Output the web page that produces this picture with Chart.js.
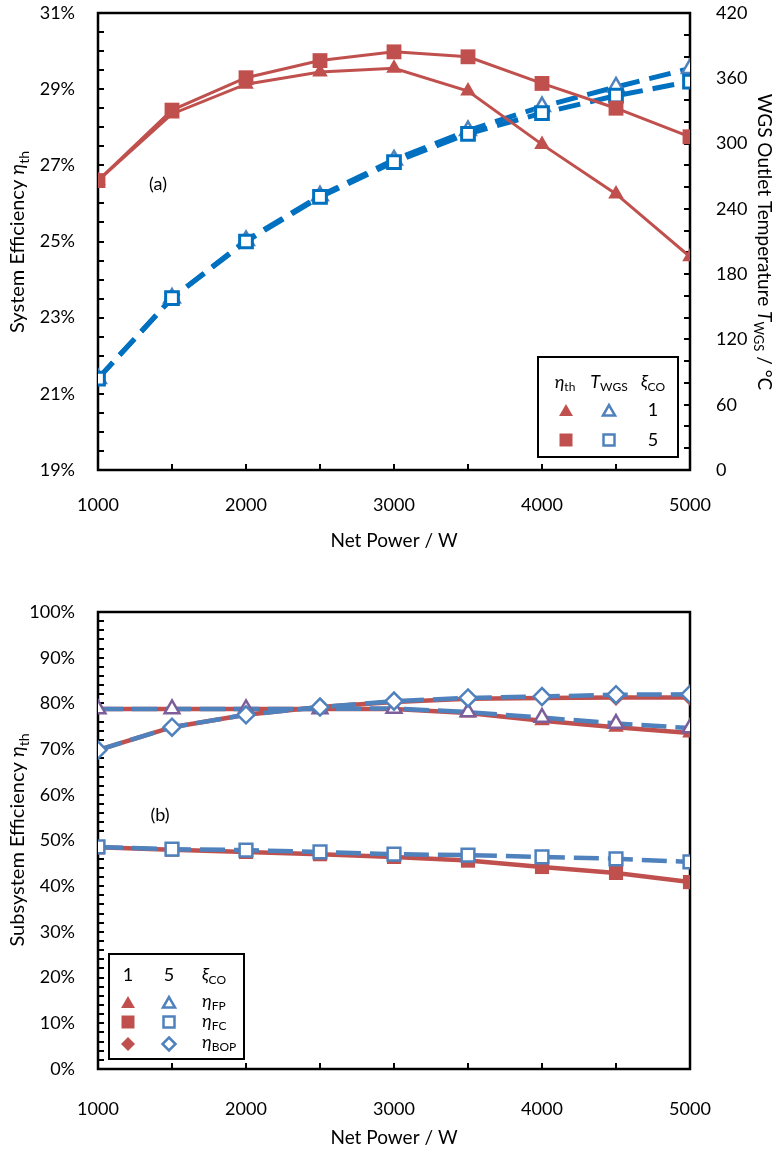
<!DOCTYPE html>
<html>
<head>
<meta charset="utf-8">
<script src="https://cdn.jsdelivr.net/npm/chart.js@4"></script>
<style>
body { margin: 0; background: #fff; }
canvas { position: absolute; left: 0; }
</style>
</head>
<body>
<canvas id="chartA" width="778" height="560" style="top:0"></canvas>
<canvas id="chartB" width="778" height="596" style="top:560px"></canvas>
<script>
// data
var netPower = [1000, 1500, 2000, 2500, 3000, 3500, 4000, 4500, 5000];
// (a) system efficiency, % (left axis)
var effXi1 = [26.6, 28.35, 29.13, 29.45, 29.55, 28.95, 27.55, 26.25, 24.6];
var effXi5 = [26.6, 28.45, 29.3, 29.75, 29.98, 29.85, 29.15, 28.5, 27.75];
// (a) WGS outlet temperature, degC (right axis)
var tempXi1 = [84, 158, 211, 252, 285, 312, 334, 352, 369];
var tempXi5 = [84, 158, 210, 251, 283, 309, 328, 344, 357];
// (b) subsystem efficiencies, %
var fpXi1 = [78.8, 78.8, 78.8, 78.8, 78.8, 77.9, 76.2, 74.8, 73.5];
var fpXi5 = [78.8, 78.8, 78.8, 78.8, 78.9, 78.1, 76.9, 75.6, 74.6];
var fcXi1 = [48.5, 48.0, 47.5, 47.0, 46.4, 45.6, 44.2, 42.9, 40.9];
var fcXi5 = [48.6, 48.1, 47.9, 47.5, 47.0, 46.8, 46.4, 46.0, 45.3];
var bopXi1 = [69.8, 74.8, 77.5, 79.2, 80.3, 81.0, 81.2, 81.3, 81.3];
var bopXi5 = [69.8, 74.8, 77.5, 79.2, 80.5, 81.2, 81.5, 81.9, 82.0];

var xTicks = [1000, 2000, 3000, 4000, 5000];

var FONT = 'Lato, "Liberation Sans", sans-serif';
var RED = '#C0504D';
var BLUE = '#4F81BD';
var DBLUE = '#0070C0';
var PURPLE = '#7B5E9A';

function pts(arr) {
    return netPower.map(function (x, i) { return { x: x, y: arr[i] }; });
}

function fontOf(p, size) {
    var f = p[1] || '';
    return (f.indexOf('i') >= 0 ? 'italic ' : '') +
        (f.indexOf('s') >= 0 ? Math.round(size * 0.68) : size) + 'px ' + FONT;
}

function rich(ctx, parts, x, y, size, align) {
    var w = 0;
    parts.forEach(function (p) { ctx.font = fontOf(p, size); w += ctx.measureText(p[0]).width; });
    var cx = align === 'center' ? x - w / 2 : (align === 'right' ? x - w : x);
    ctx.textAlign = 'left';
    ctx.textBaseline = 'middle';
    ctx.fillStyle = '#000';
    parts.forEach(function (p) {
        ctx.font = fontOf(p, size);
        var dy = (p[1] || '').indexOf('s') >= 0 ? size * 0.3 : 0;
        ctx.fillText(p[0], cx, y + dy);
        cx += ctx.measureText(p[0]).width;
    });
}

function richRot(ctx, parts, x, y, size, angle) {
    ctx.save();
    ctx.translate(x, y);
    ctx.rotate(angle);
    rich(ctx, parts, 0, 0, size, 'center');
    ctx.restore();
}

function shape(ctx, type, x, y, r, fill, stroke, lw) {
    ctx.save();
    ctx.beginPath();
    if (type === 'tri') {
        var s = r * Math.sqrt(3);
        ctx.moveTo(x, y - r);
        ctx.lineTo(x + s / 2, y + r / 2);
        ctx.lineTo(x - s / 2, y + r / 2);
        ctx.closePath();
    } else if (type === 'sq') {
        ctx.rect(x - r, y - r, 2 * r, 2 * r);
    } else {
        ctx.moveTo(x, y - r);
        ctx.lineTo(x + r, y);
        ctx.lineTo(x, y + r);
        ctx.lineTo(x - r, y);
        ctx.closePath();
    }
    if (fill) { ctx.fillStyle = fill; ctx.fill(); }
    if (stroke) { ctx.strokeStyle = stroke; ctx.lineWidth = lw; ctx.stroke(); }
    ctx.restore();
}

function tickLine(ctx, x1, y1, x2, y2) {
    ctx.beginPath();
    ctx.moveTo(x1, y1);
    ctx.lineTo(x2, y2);
    ctx.stroke();
}

// frame + inward minor ticks
var frameTicks = {
    id: 'frameTicks',
    beforeDatasetsDraw: function (chart, args, opts) {
        var ctx = chart.ctx, a = chart.chartArea;
        ctx.save();
        ctx.strokeStyle = '#000';
        ctx.lineWidth = 2.5;
        ctx.strokeRect(a.left, a.top, a.right - a.left, a.bottom - a.top);
        ctx.lineWidth = 2;
        var sx = chart.scales.x;
        for (var v = sx.min; v <= sx.max + 1e-6; v += opts.x) {
            var p = Math.round(sx.getPixelForValue(v));
            tickLine(ctx, p, a.bottom, p, a.bottom - 6);
        }
        var sy = chart.scales.y;
        for (v = sy.min; v <= sy.max + 1e-6; v += opts.y) {
            p = Math.round(sy.getPixelForValue(v));
            tickLine(ctx, a.left, p, a.left + 6, p);
        }
        if (chart.scales.y2) {
            var s2 = chart.scales.y2;
            for (v = s2.min; v <= s2.max + 1e-6; v += opts.y2) {
                p = Math.round(s2.getPixelForValue(v));
                tickLine(ctx, a.right, p, a.right - 6, p);
            }
        }
        ctx.restore();
    }
};

var tickFont = { family: FONT, size: 18 };

function fitY(w) {
    return function (s) { s.width = w; s.paddingTop = 0; s.paddingBottom = 0; };
}
function fitX(h) {
    return function (s) { s.height = h; s.paddingLeft = 0; s.paddingRight = 0; };
}
function fixedXTicks(s) {
    s.ticks = xTicks.map(function (v) { return { value: v }; });
}
function plain(v) { return String(v); }
function pct(v) { return v + '%'; }

Chart.defaults.font.family = FONT;
Chart.defaults.color = '#000';

// ---------- (a) ----------
var decorA = {
    id: 'decorA',
    afterDraw: function (chart) {
        var ctx = chart.ctx;
        ctx.save();
        rich(ctx, [['(a)', '']], 158, 184, 18, 'center');
        rich(ctx, [['Net Power / W', '']], 394, 541, 19, 'center');
        richRot(ctx, [['System Efficiency ', ''], ['\u03b7', 'i'], ['th', 's']], 18, 242, 20, -Math.PI / 2);
        richRot(ctx, [['WGS Outlet Temperature ', ''], ['T', 'i'], ['WGS', 's'], [' / \u00b0C', '']], 764, 242, 19, Math.PI / 2);
        // legend box
        ctx.lineWidth = 2;
        ctx.strokeStyle = '#000';
        ctx.fillStyle = '#fff';
        ctx.fillRect(538, 357, 140, 100);
        ctx.strokeRect(538, 357, 140, 100);
        rich(ctx, [['\u03b7', 'i'], ['th', 's']], 565, 382, 18, 'center');
        rich(ctx, [['T', 'i'], ['WGS', 's']], 609, 382, 18, 'center');
        rich(ctx, [['\u03be', 'i'], ['CO', 's']], 653, 382, 18, 'center');
        shape(ctx, 'tri', 566, 412, 8, RED);
        shape(ctx, 'tri', 609, 412, 7, null, BLUE, 2.5);
        rich(ctx, [['1', '']], 653, 410, 18, 'center');
        shape(ctx, 'sq', 566, 440, 6.5, RED);
        shape(ctx, 'sq', 609, 440, 5.5, null, BLUE, 2.5);
        rich(ctx, [['5', '']], 653, 440, 18, 'center');
        ctx.restore();
    }
};

new Chart(document.getElementById('chartA'), {
    type: 'line',
    data: {
        datasets: [
            {
                data: pts(effXi5), yAxisID: 'y',
                borderColor: RED, borderWidth: 3,
                pointStyle: 'rect', pointRadius: 10.5,
                pointBackgroundColor: RED, pointBorderColor: RED, pointBorderWidth: 0
            },
            {
                data: pts(effXi1), yAxisID: 'y',
                borderColor: RED, borderWidth: 3,
                pointStyle: 'triangle', pointRadius: 9,
                pointBackgroundColor: RED, pointBorderColor: RED, pointBorderWidth: 0
            },
            {
                data: pts(tempXi5), yAxisID: 'y2',
                borderColor: DBLUE, borderWidth: 5, borderDash: [22, 10],
                pointStyle: 'rect', pointRadius: 9,
                pointBackgroundColor: '#fff', pointBorderColor: DBLUE, pointBorderWidth: 3
            },
            {
                data: pts(tempXi1), yAxisID: 'y2',
                borderColor: DBLUE, borderWidth: 5, borderDash: [22, 10],
                pointStyle: 'triangle', pointRadius: 9,
                pointBackgroundColor: '#fff', pointBorderColor: BLUE, pointBorderWidth: 2.5
            }
        ]
    },
    options: {
        responsive: false,
        animation: false,
        devicePixelRatio: 1,
        layout: { padding: { top: 13, left: 0, right: 0, bottom: 0 } },
        plugins: {
            legend: { display: false },
            tooltip: { enabled: false },
            frameTicks: { x: 500, y: 0.5, y2: 20 }
        },
        scales: {
            x: {
                type: 'linear', min: 1000, max: 5000,
                afterFit: fitX(90),
                afterBuildTicks: fixedXTicks,
                grid: { display: false }, border: { display: false },
                ticks: { font: tickFont, padding: 16, maxRotation: 0, callback: plain }
            },
            y: {
                position: 'left', min: 19, max: 31,
                afterFit: fitY(98),
                grid: { display: false }, border: { display: false },
                ticks: { font: tickFont, padding: 15, stepSize: 2, callback: pct }
            },
            y2: {
                position: 'right', min: 0, max: 420,
                afterFit: fitY(88),
                grid: { display: false }, border: { display: false },
                ticks: { font: tickFont, padding: 18, stepSize: 60, callback: plain }
            }
        }
    },
    plugins: [frameTicks, decorA]
});

// ---------- (b) ----------
var decorB = {
    id: 'decorB',
    afterDraw: function (chart) {
        var ctx = chart.ctx;
        ctx.save();
        rich(ctx, [['(b)', '']], 160, 255, 18, 'center');
        rich(ctx, [['Net Power / W', '']], 394, 578, 19, 'center');
        richRot(ctx, [['Subsystem Efficiency ', ''], ['\u03b7', 'i'], ['th', 's']], 18, 280, 20, -Math.PI / 2);
        ctx.lineWidth = 2;
        ctx.strokeStyle = '#000';
        ctx.fillStyle = '#fff';
        ctx.fillRect(109, 394, 135, 105);
        ctx.strokeRect(109, 394, 135, 105);
        rich(ctx, [['1', '']], 128, 415, 18, 'center');
        rich(ctx, [['5', '']], 169, 415, 18, 'center');
        rich(ctx, [['\u03be', 'i'], ['CO', 's']], 202, 415, 18, 'left');
        shape(ctx, 'tri', 128, 444, 8, RED);
        shape(ctx, 'tri', 169, 444, 7, null, BLUE, 2.5);
        rich(ctx, [['\u03b7', 'i'], ['FP', 's']], 202, 441, 18, 'left');
        shape(ctx, 'sq', 128, 462, 6.5, RED);
        shape(ctx, 'sq', 169, 462, 5.5, null, BLUE, 2.5);
        rich(ctx, [['\u03b7', 'i'], ['FC', 's']], 202, 461, 18, 'left');
        shape(ctx, 'dia', 128, 484, 7, RED);
        shape(ctx, 'dia', 169, 484, 6.5, null, BLUE, 2.5);
        rich(ctx, [['\u03b7', 'i'], ['BOP', 's']], 202, 482, 18, 'left');
        ctx.restore();
    }
};

function blueSet(arr, style, r, border) {
    return {
        data: pts(arr), borderColor: BLUE, borderWidth: 4.5, borderDash: [25, 9],
        pointStyle: style, pointRadius: r,
        pointBackgroundColor: '#fff', pointBorderColor: border, pointBorderWidth: 2.5
    };
}
function redSet(arr, style, r) {
    return {
        data: pts(arr), borderColor: RED, borderWidth: 4.5,
        pointStyle: style, pointRadius: r,
        pointBackgroundColor: RED, pointBorderColor: RED, pointBorderWidth: 0
    };
}

new Chart(document.getElementById('chartB'), {
    type: 'line',
    data: {
        datasets: [
            blueSet(fcXi5, 'rect', 9, BLUE),
            blueSet(bopXi5, 'rectRot', 8.5, BLUE),
            blueSet(fpXi5, 'triangle', 8.5, PURPLE),
            redSet(fcXi1, 'rect', 10),
            redSet(bopXi1, 'rectRot', 8.5),
            redSet(fpXi1, 'triangle', 9)
        ]
    },
    options: {
        responsive: false,
        animation: false,
        devicePixelRatio: 1,
        layout: { padding: { top: 52, left: 0, right: 88, bottom: 0 } },
        plugins: {
            legend: { display: false },
            tooltip: { enabled: false },
            frameTicks: { x: 500, y: 2 }
        },
        scales: {
            x: {
                type: 'linear', min: 1000, max: 5000,
                afterFit: fitX(87),
                afterBuildTicks: fixedXTicks,
                grid: { display: false }, border: { display: false },
                ticks: { font: tickFont, padding: 21, maxRotation: 0, callback: plain }
            },
            y: {
                position: 'left', min: 0, max: 100,
                afterFit: fitY(98),
                grid: { display: false }, border: { display: false },
                ticks: { font: tickFont, padding: 15, stepSize: 10, callback: pct }
            }
        }
    },
    plugins: [frameTicks, decorB]
});
</script>
</body>
</html>
